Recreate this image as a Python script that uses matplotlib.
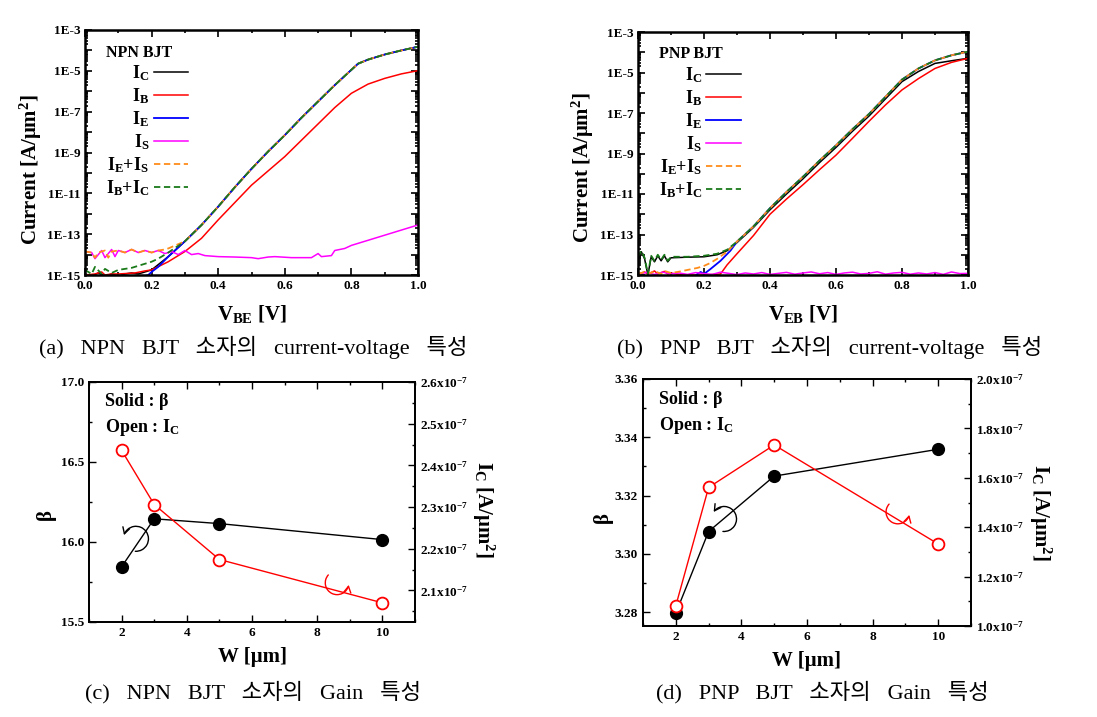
import numpy as np
import matplotlib
matplotlib.use('Agg')
import matplotlib.pyplot as plt
from matplotlib.ticker import FixedLocator, MultipleLocator, LogLocator, NullFormatter, FuncFormatter
from matplotlib.path import Path
from matplotlib.patches import FancyArrowPatch
from matplotlib.transforms import Affine2D, ScaledTranslation

plt.rcParams['font.family'] = ['Liberation Serif', 'DejaVu Serif']
plt.rcParams['font.weight'] = 'bold'
plt.rcParams['mathtext.fontset'] = 'custom'
plt.rcParams['mathtext.rm'] = 'Liberation Serif:bold'
plt.rcParams['mathtext.it'] = 'Liberation Serif:bold'
plt.rcParams['mathtext.bf'] = 'Liberation Serif:bold'

# ---------------- (a) NPN I-V data (log10 of current density) ----------------
npn_v_hi = [0.30, 0.35, 0.40, 0.45, 0.50, 0.55, 0.60, 0.65, 0.70, 0.75, 0.80, 0.82, 0.85, 0.90, 0.95, 1.00]
npn_main_hi = [-13.35, -12.55, -11.65, -10.7, -9.8, -8.95, -8.15, -7.3, -6.5, -5.7, -4.95, -4.65, -4.45, -4.2, -4.0, -3.82]

npn_ic_v_lo = [0.00, 0.02, 0.04, 0.06, 0.08, 0.10, 0.12, 0.14, 0.16, 0.18, 0.20, 0.25]
npn_ic_lo = [-14.95, -15.05, -14.9, -15.05, -14.95, -15.05, -14.95, -14.9, -14.95, -14.85, -14.75, -14.1]

npn_ie_v_lo = [0.17, 0.19, 0.20, 0.22, 0.25]
npn_ie_lo = [-15.1, -15.0, -14.85, -14.6, -14.1]

npn_ies_v_lo = [0.00, 0.02, 0.03, 0.04, 0.06, 0.07, 0.08, 0.10, 0.12, 0.14, 0.16, 0.18, 0.20, 0.22, 0.24, 0.25]
npn_ies_lo = [-13.85, -13.9, -14.15, -13.9, -13.8, -14.15, -13.85, -13.8, -13.9, -13.75, -13.9, -13.8, -13.9, -13.8, -13.75, -13.7]

npn_ibc_v_lo = [0.00, 0.02, 0.03, 0.05, 0.06, 0.08, 0.10, 0.12, 0.14, 0.16, 0.18, 0.20, 0.22, 0.25]
npn_ibc_lo = [-14.75, -14.95, -14.6, -14.95, -14.7, -14.9, -14.75, -14.7, -14.65, -14.55, -14.45, -14.35, -14.2, -13.9]

npn_ib_v = [0.00, 0.03, 0.05, 0.06, 0.08, 0.10, 0.15, 0.18, 0.20, 0.25, 0.30, 0.35, 0.40, 0.45, 0.50,
            0.55, 0.60, 0.65, 0.70, 0.75, 0.80, 0.85, 0.90, 0.95, 1.00]
npn_ib = [-15.0, -14.95, -14.85, -15.0, -14.95, -14.95, -14.9, -14.8, -14.75, -14.35, -13.85, -13.2, -12.3, -11.45, -10.6,
          -9.9, -9.2, -8.4, -7.6, -6.8, -6.1, -5.65, -5.37, -5.15, -4.99]

npn_is_v = [0.00, 0.02, 0.03, 0.05, 0.06, 0.08, 0.09, 0.10, 0.12, 0.14, 0.16, 0.18, 0.20, 0.22, 0.24, 0.26,
            0.28, 0.30, 0.32, 0.34, 0.36, 0.40, 0.45, 0.50, 0.52, 0.55, 0.57, 0.60, 0.62, 0.65, 0.68, 0.70,
            0.71, 0.74, 0.75, 0.78, 0.80, 0.85, 0.90, 0.95, 1.00]
npn_is = [-13.85, -13.9, -14.2, -13.8, -14.15, -13.75, -14.1, -13.8, -13.9, -13.75, -13.9, -13.8, -13.9, -13.8, -13.95, -13.85,
          -14.0, -13.8, -14.0, -13.95, -14.05, -14.1, -14.12, -14.15, -14.2, -14.12, -14.1, -14.13, -14.15, -14.15, -14.15, -13.95,
          -14.1, -14.05, -13.8, -13.7, -13.55, -13.3, -13.05, -12.8, -12.55]

# ---------------- (b) PNP I-V data ----------------
pnp_v_hi = [0.30, 0.35, 0.40, 0.45, 0.50, 0.55, 0.60, 0.65, 0.70, 0.75, 0.80, 0.85, 0.90, 0.95, 1.00]
pnp_main_hi = [-13.35, -12.6, -11.7, -10.9, -10.15, -9.35, -8.6, -7.8, -7.05, -6.2, -5.35, -4.8, -4.4, -4.15, -3.97]
pnp_ic_hi = [-13.4, -12.65, -11.78, -11.0, -10.25, -9.45, -8.7, -7.9, -7.15, -6.3, -5.45, -4.95, -4.55, -4.42, -4.3]

pnp_ic_v_lo = [0.00, 0.01, 0.02, 0.03, 0.04, 0.05, 0.06, 0.07, 0.08, 0.09, 0.10, 0.15, 0.20, 0.24, 0.27]
pnp_ic_lo = [-14.15, -13.85, -14.2, -15.0, -14.1, -14.35, -14.05, -14.3, -14.05, -14.35, -14.15, -14.12, -14.1, -14.0, -13.8]

pnp_ibc_v_lo = [0.00, 0.01, 0.02, 0.03, 0.04, 0.05, 0.06, 0.07, 0.08, 0.09, 0.10, 0.15, 0.20, 0.24, 0.27]
pnp_ibc_lo = [-14.1, -13.8, -14.15, -14.95, -14.05, -14.3, -14.0, -14.25, -14.0, -14.3, -14.1, -14.1, -14.05, -13.95, -13.75]

pnp_ie_v_lo = [0.17, 0.18, 0.19, 0.20, 0.22, 0.25, 0.28]
pnp_ie_lo = [-15.1, -14.95, -14.85, -14.95, -14.7, -14.3, -13.8]

pnp_ies_v_lo = [0.00, 0.02, 0.04, 0.05, 0.07, 0.08, 0.10, 0.12, 0.15, 0.18, 0.20, 0.22, 0.24, 0.27]
pnp_ies_lo = [-14.95, -14.85, -14.9, -14.8, -14.95, -14.8, -14.9, -14.85, -14.75, -14.65, -14.55, -14.4, -14.2, -13.85]

pnp_ib_v = [0.00, 0.02, 0.03, 0.05, 0.06, 0.08, 0.09, 0.10, 0.12, 0.15, 0.20, 0.25, 0.27, 0.30, 0.35, 0.40,
            0.45, 0.50, 0.55, 0.60, 0.65, 0.70, 0.75, 0.80, 0.85, 0.90, 0.95, 1.00]
pnp_ib = [-14.95, -14.85, -14.95, -14.8, -14.95, -14.82, -14.95, -14.9, -14.97, -15.0, -15.0, -14.95, -14.5, -13.95, -13.05, -12.0,
          -11.25, -10.54, -9.8, -9.08, -8.25, -7.41, -6.6, -5.86, -5.3, -4.8, -4.5, -4.3]

pnp_is_v = [0.000, 0.025, 0.050, 0.075, 0.100, 0.125, 0.150, 0.175, 0.200, 0.225, 0.250, 0.275, 0.300, 0.325,
            0.350, 0.375, 0.400, 0.425, 0.450, 0.475, 0.500, 0.525, 0.550, 0.575, 0.600, 0.625, 0.650, 0.675,
            0.700, 0.725, 0.750, 0.775, 0.800, 0.825, 0.850, 0.875, 0.900, 0.925, 0.950, 0.975, 1.000]
pnp_is = [-14.95, -14.88, -14.97, -14.86, -14.95, -14.9, -14.97, -14.88, -14.93, -14.97, -14.86, -14.92, -14.98, -14.9,
          -14.95, -14.88, -14.97, -14.92, -14.87, -14.96, -14.9, -14.85, -14.94, -14.88, -14.97, -14.9, -14.86, -14.95,
          -14.92, -14.84, -14.96, -14.9, -14.87, -14.96, -14.9, -14.95, -14.88, -14.97, -14.85, -14.93, -14.92]

# ---------------- (c) / (d) gain data ----------------
c_w = [2, 3, 5, 10]
c_beta = [15.845, 16.145, 16.115, 16.015]
c_ic = [2.436e-7, 2.306e-7, 2.174e-7, 2.070e-7]

d_w = [2, 3, 5, 10]
d_beta = [3.2797, 3.3077, 3.3267, 3.3359]
d_ic = [1.082e-7, 1.561e-7, 1.733e-7, 1.332e-7]

W, H = 1097, 717
fig = plt.figure(figsize=(W / 100, H / 100), dpi=100)


def ax_px(l, t, r, b):
    return fig.add_axes([l / W, 1 - b / H, (r - l) / W, (b - t) / H])


CAP_FONT = ['Liberation Serif', 'Noto Sans CJK KR']
COLORS = dict(ic='black', ib='#ff0000', ie='#0000ff', is_='#ff00ff', ies='#ff8c1a', ibc='#1a7a1a')


def iv_axes(ax, title, xlab, lab_xy):
    ax.set_yscale('log')
    ax.set_xlim(0, 1.0)
    ax.set_ylim(1e-15, 1e-3)
    ax.yaxis.set_major_locator(FixedLocator([10.0 ** k for k in range(-15, -2)]))
    ax.yaxis.set_major_formatter(FuncFormatter(
        lambda v, p: ('1E%d' % int(round(np.log10(v)))) if int(round(np.log10(v))) % 2 != 0 else ''))
    ax.yaxis.set_minor_locator(LogLocator(base=10, subs=np.arange(2, 10), numticks=100))
    ax.yaxis.set_minor_formatter(NullFormatter())
    ax.xaxis.set_major_locator(MultipleLocator(0.2))
    ax.xaxis.set_minor_locator(MultipleLocator(0.1))
    ax.xaxis.set_major_formatter(FuncFormatter(lambda v, p: '%.1f' % v))
    ax.tick_params(which='both', direction='in', top=True, right=True, labelsize=9.5, width=1.2)
    ax.tick_params(which='major', length=5)
    ax.tick_params(which='minor', length=2.5)
    for s in ax.spines.values():
        s.set_linewidth(1.8)
    for lab in ax.get_xticklabels() + ax.get_yticklabels():
        lab.set_fontweight('bold')
    ax.set_ylabel('Current [A/μm$^{2}$]', fontsize=15, fontweight='bold')
    ax.yaxis.set_label_coords(*lab_xy)
    ax.set_xlabel(xlab, fontsize=15, fontweight='bold', labelpad=8)
    leg = ax.legend(title=title, markerfirst=False, frameon=False, loc='upper left',
                    bbox_to_anchor=(0.03, 0.985), fontsize=13, title_fontproperties={'weight': 'bold', 'size': 11.5},
                    handlelength=1.9, labelspacing=0.18, handletextpad=0.25, alignment='left', borderaxespad=0.2)
    for t in leg.get_texts():
        t.set_fontweight('bold')


def pw(a):
    return [10.0 ** x for x in a]


# ---- (a)
axa = ax_px(85, 30, 418, 275)
axa.plot(npn_ic_v_lo + npn_v_hi, pw(npn_ic_lo + npn_main_hi), color=COLORS['ic'], lw=1.1, label='$I_C$')
axa.plot(npn_ib_v, pw(npn_ib), color=COLORS['ib'], lw=1.1, label='$I_B$')
axa.plot(npn_ie_v_lo + npn_v_hi, pw(npn_ie_lo + npn_main_hi), color=COLORS['ie'], lw=1.3, label='$I_E$')
axa.plot(npn_is_v, pw(npn_is), color=COLORS['is_'], lw=1.1, label='$I_S$')
axa.plot(npn_ies_v_lo + npn_v_hi, pw(npn_ies_lo + npn_main_hi), color=COLORS['ies'], lw=1.3, ls=(0, (3.5, 2)),
         label='$I_E$+$I_S$')
axa.plot(npn_ibc_v_lo + npn_v_hi, pw(npn_ibc_lo + npn_main_hi), color=COLORS['ibc'], lw=1.3, ls=(0, (3.5, 2)),
         label='$I_B$+$I_C$')
iv_axes(axa, 'NPN BJT', r'V$_{\mathbf{BE}}$ [V]', (-0.123, 0.43))

# ---- (b)
axb = ax_px(638, 32, 968, 275)
axb.plot(pnp_ic_v_lo + pnp_v_hi, pw(pnp_ic_lo + pnp_ic_hi), color=COLORS['ic'], lw=1.1, label='$I_C$')
axb.plot(pnp_ib_v, pw(pnp_ib), color=COLORS['ib'], lw=1.1, label='$I_B$')
axb.plot(pnp_ie_v_lo + pnp_v_hi, pw(pnp_ie_lo + pnp_main_hi), color=COLORS['ie'], lw=1.3, label='$I_E$')
axb.plot(pnp_is_v, pw(pnp_is), color=COLORS['is_'], lw=1.1, label='$I_S$')
axb.plot(pnp_ies_v_lo + pnp_v_hi, pw(pnp_ies_lo + pnp_main_hi), color=COLORS['ies'], lw=1.3, ls=(0, (3.5, 2)),
         label='$I_E$+$I_S$')
axb.plot(pnp_ibc_v_lo + pnp_v_hi, pw(pnp_ibc_lo + pnp_main_hi), color=COLORS['ibc'], lw=1.3, ls=(0, (3.5, 2)),
         label='$I_B$+$I_C$')
iv_axes(axb, 'PNP BJT', r'V$_{\mathbf{EB}}$ [V]', (-0.127, 0.44))


def sci7(v, p):
    return '%.1fx10$^{-7}$' % (v / 1e-7)


def gain_axes(ax, ax2, ylim, ymaj, ymin, y2lim, y2maj, y2min, yfmt, lab1, lab2):
    ax.set_xlim(1, 11)
    ax.set_ylim(*ylim)
    ax2.set_ylim(*y2lim)
    ax.xaxis.set_major_locator(MultipleLocator(2))
    ax.xaxis.set_minor_locator(MultipleLocator(1))
    ax.yaxis.set_major_locator(MultipleLocator(ymaj))
    ax.yaxis.set_minor_locator(MultipleLocator(ymin))
    ax.yaxis.set_major_formatter(FuncFormatter(lambda v, p: yfmt % v))
    ax2.yaxis.set_major_locator(MultipleLocator(y2maj))
    ax2.yaxis.set_minor_locator(MultipleLocator(y2min))
    ax2.yaxis.set_major_formatter(FuncFormatter(sci7))
    ax.tick_params(which='both', direction='in', top=True, labelsize=9.5, width=1.0)
    ax.tick_params(which='major', length=5)
    ax.tick_params(which='minor', length=2.5)
    ax2.tick_params(which='both', direction='in', labelsize=9.5, width=1.0)
    ax2.tick_params(which='major', length=5)
    ax2.tick_params(which='minor', length=2.5)
    for s in list(ax.spines.values()) + list(ax2.spines.values()):
        s.set_linewidth(1.3)
    for lab in ax.get_xticklabels() + ax.get_yticklabels() + ax2.get_yticklabels():
        lab.set_fontweight('bold')
    ax.set_xlabel('W [μm]', fontsize=15, fontweight='bold', labelpad=6)
    ax.set_ylabel('β', fontsize=15, fontweight='bold')
    ax.yaxis.set_label_coords(*lab1)
    ax2.set_ylabel('I$_C$ [A/μm$^{2}$]', fontsize=15, fontweight='bold', rotation=270, va='center')
    ax2.yaxis.set_label_coords(*lab2)
    ax.text(0.05, 0.917, 'Solid : β', transform=ax.transAxes, fontsize=13, fontweight='bold', va='center')
    ax.text(0.05, 0.81, 'Open : I$_C$', transform=ax.transAxes, fontsize=13, fontweight='bold', va='center')


def curl(ax, xc, yc, t1, t2, r_pt, color):
    """Curved (circular) arrow around a data point, radius in points."""
    tr = (Affine2D().scale(r_pt / 72.0) + fig.dpi_scale_trans
          + ScaledTranslation(xc, yc, ax.transData))
    p = FancyArrowPatch(path=Path.arc(t1, t2), arrowstyle='->,head_length=0.45,head_width=0.25',
                        mutation_scale=10, color=color, lw=1.0, transform=tr, clip_on=False, zorder=4)
    ax.add_patch(p)


MS = 8.5

# ---- (c)
axc = ax_px(89, 382, 415, 622)
axc2 = axc.twinx()
axc.plot(c_w, c_beta, color='black', lw=1.0, marker='o', ms=MS, mfc='black', mec='black', zorder=3)
axc2.plot(c_w, c_ic, color='#ff0000', lw=1.0, marker='o', ms=MS, mfc='white', mec='#ff0000', mew=1.3, zorder=3)
gain_axes(axc, axc2, (15.5, 17.0), 0.5, 0.25, (2.024e-7, 2.6e-7), 0.1e-7, 0.05e-7, '%.1f',
          (-0.101, 0.446), (1.209, 0.467))
curl(axc, 2.44, 16.02, -93, 163, 9, 'black')
curl(axc2, 8.61, 2.118e-7, 138, 350, 8.5, '#ff0000')

# ---- (d)
axd = ax_px(643, 379, 971, 626)
axd2 = axd.twinx()
axd.plot(d_w, d_beta, color='black', lw=1.0, marker='o', ms=MS, mfc='black', mec='black', zorder=3)
axd2.plot(d_w, d_ic, color='#ff0000', lw=1.0, marker='o', ms=MS, mfc='white', mec='#ff0000', mew=1.3, zorder=3)
gain_axes(axd, axd2, (3.2753, 3.36), 0.02, 0.01, (1.0e-7, 2.0e-7), 0.2e-7, 0.1e-7, '%.2f',
          (-0.091, 0.44), (1.21, 0.46))
curl(axd, 3.47, 3.312, -95, 146, 9, 'black')
curl(axd2, 8.77, 1.4615e-7, 138, 346, 8.5, '#ff0000')

# ---- captions
caps = [('(a)   NPN   BJT   소자의   current-voltage   특성', 253, 347),
        ('(b)   PNP   BJT   소자의   current-voltage   특성', 830, 347),
        ('(c)   NPN   BJT   소자의   Gain   특성', 253, 692),
        ('(d)   PNP   BJT   소자의   Gain   특성', 822, 692)]
for txt, x, y in caps:
    fig.text(x / W, 1 - y / H, txt, ha='center', va='center', fontsize=16, fontweight='normal', family=CAP_FONT)

fig.savefig('out.png', dpi=100)
